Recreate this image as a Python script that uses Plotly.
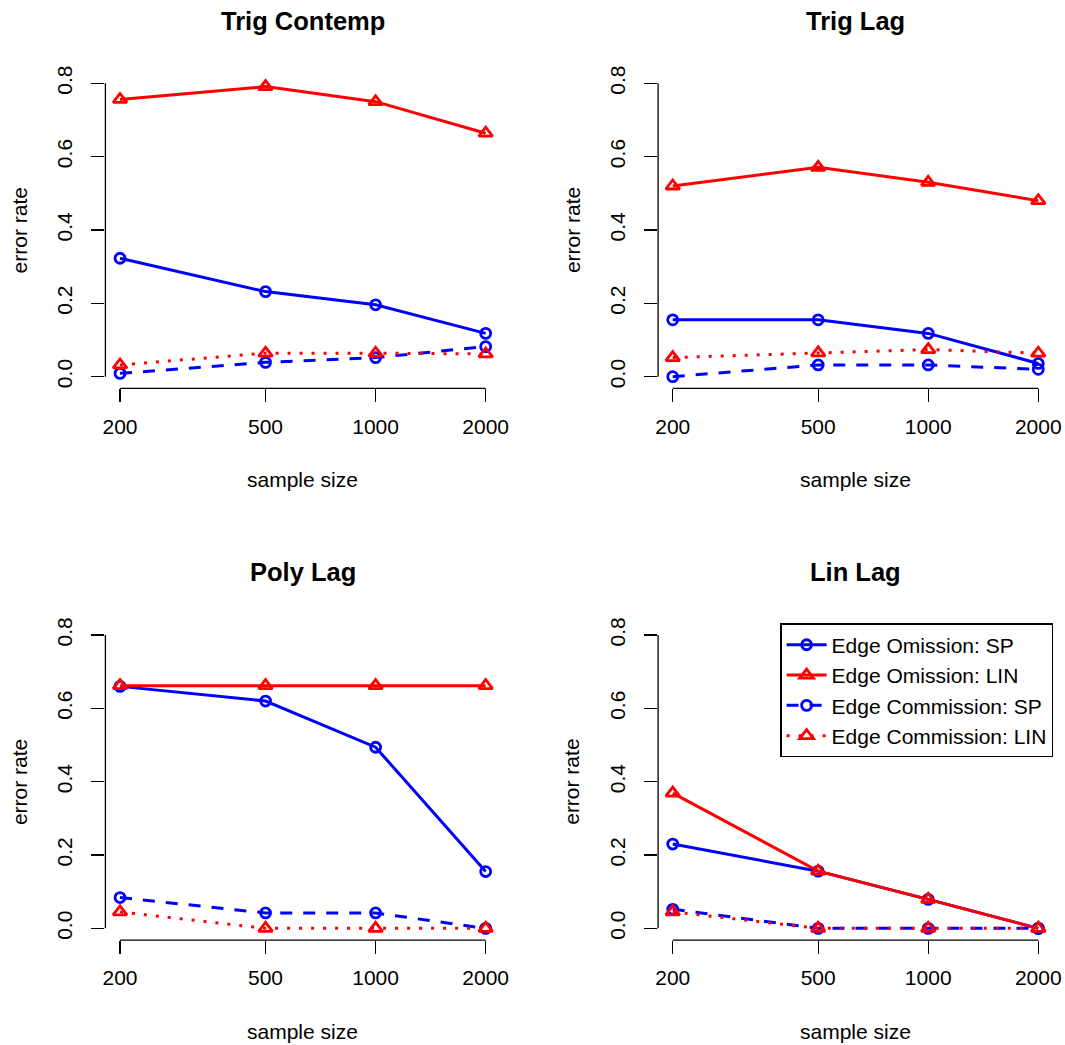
import math
import plotly.graph_objects as go

# ---------------- data ----------------
sample_size = [200, 500, 1000, 2000]
x_tick_labels = ["200", "500", "1000", "2000"]
y_ticks = [0.0, 0.2, 0.4, 0.6, 0.8]
y_tick_labels = ["0.0", "0.2", "0.4", "0.6", "0.8"]

panel_titles = ["Trig Contemp", "Trig Lag", "Poly Lag", "Lin Lag"]
series_names = ["Edge Omission: SP", "Edge Omission: LIN",
                "Edge Commission: SP", "Edge Commission: LIN"]

trig_contemp_omis_sp = [0.323, 0.232, 0.196, 0.118]
trig_contemp_omis_lin = [0.756, 0.791, 0.750, 0.664]
trig_contemp_comm_sp = [0.009, 0.039, 0.052, 0.082]
trig_contemp_comm_lin = [0.032, 0.064, 0.064, 0.062]

trig_lag_omis_sp = [0.155, 0.155, 0.118, 0.036]
trig_lag_omis_lin = [0.520, 0.571, 0.530, 0.480]
trig_lag_comm_sp = [0.000, 0.032, 0.032, 0.020]
trig_lag_comm_lin = [0.052, 0.065, 0.074, 0.064]

poly_lag_omis_sp = [0.660, 0.620, 0.494, 0.155]
poly_lag_omis_lin = [0.662, 0.662, 0.662, 0.662]
poly_lag_comm_sp = [0.084, 0.042, 0.042, 0.000]
poly_lag_comm_lin = [0.045, 0.000, 0.000, 0.000]

lin_lag_omis_sp = [0.230, 0.156, 0.079, 0.000]
lin_lag_omis_lin = [0.369, 0.156, 0.079, 0.000]
lin_lag_comm_sp = [0.052, 0.000, 0.000, 0.000]
lin_lag_comm_lin = [0.045, 0.000, 0.000, 0.000]

panels = [
    [trig_contemp_omis_sp, trig_contemp_omis_lin, trig_contemp_comm_sp, trig_contemp_comm_lin],
    [trig_lag_omis_sp, trig_lag_omis_lin, trig_lag_comm_sp, trig_lag_comm_lin],
    [poly_lag_omis_sp, poly_lag_omis_lin, poly_lag_comm_sp, poly_lag_comm_lin],
    [lin_lag_omis_sp, lin_lag_omis_lin, lin_lag_comm_sp, lin_lag_comm_lin],
]

# ---------------- styles ----------------
FONT = "Liberation Sans, Arial, Helvetica, sans-serif"
W, H = 1065, 1045
styles = [
    dict(color="#0000FF", dash="solid", symbol="circle-open", size=10),
    dict(color="#FF0000", dash="solid", symbol="triangle-up-open", size=12),
    dict(color="#0000FF", dash="12px,11px", symbol="circle-open", size=10),
    dict(color="#FF0000", dash="3px,9px", symbol="triangle-up-open", size=12),
]

# panel plot regions in pixels (left, right, top, bottom)
regions = [
    (105.4, 500.3, 71.6, 388.4),
    (658.1, 1052.9, 71.6, 388.4),
    (105.4, 500.3, 623.3, 940.1),
    (658.1, 1052.9, 623.3, 940.1),
]

fig = go.Figure()

lx0, lx1 = math.log10(min(sample_size)), math.log10(max(sample_size))
xpad = 0.04 * (lx1 - lx0)
ylo, yhi = min(y_ticks), max(y_ticks)
ypad = 0.04 * (yhi - ylo)

annotations = []
shapes = []

for p in range(4):
    sfx = "" if p == 0 else str(p + 1)
    xa, ya = "x" + sfx, "y" + sfx
    left, right, top, bottom = regions[p]
    dom_x = [left / W, right / W]
    dom_y = [1 - bottom / H, 1 - top / H]
    axis_font = dict(family=FONT, size=21, color="black")
    fig.layout["xaxis" + sfx] = dict(
        domain=dom_x, anchor=ya, type="log",
        range=[lx0 - xpad, lx1 + xpad],
        tickmode="array", tickvals=sample_size, ticktext=x_tick_labels,
        ticks="outside", ticklen=13, tickwidth=1.3, tickcolor="black",
        showline=False, showgrid=False, zeroline=False,
        tickfont=axis_font, ticklabelstandoff=6, automargin=False,
    )
    fig.layout["yaxis" + sfx] = dict(
        domain=dom_y, anchor=xa,
        range=[ylo - ypad, yhi + ypad],
        tickmode="array", tickvals=y_ticks, ticktext=y_tick_labels,
        ticks="outside", ticklen=13, tickwidth=1.3, tickcolor="black",
        tickangle=-90,
        showline=False, showgrid=False, zeroline=False,
        tickfont=axis_font, ticklabelstandoff=11, automargin=False,
    )
    # axis lines spanning first to last tick (R style)
    shapes.append(dict(type="line", xref=xa, yref=ya + " domain",
                       x0=min(sample_size), x1=max(sample_size), y0=0, y1=0,
                       line=dict(color="black", width=1.3)))
    shapes.append(dict(type="line", xref=xa + " domain", yref=ya,
                       x0=0, x1=0, y0=ylo, y1=yhi,
                       line=dict(color="black", width=1.3)))

    for s in range(4):
        st = styles[s]
        fig.add_trace(go.Scatter(
            x=sample_size, y=panels[p][s], xaxis=xa, yaxis=ya,
            mode="lines+markers", name=series_names[s],
            legendgroup=series_names[s], showlegend=(p == 3),
            line=dict(color=st["color"], width=3, dash=st["dash"]),
            marker=dict(symbol=st["symbol"], size=st["size"], color=st["color"],
                        line=dict(width=2.8, color=st["color"])),
            cliponaxis=False,
        ))

    annotations.append(dict(text="<b>" + panel_titles[p] + "</b>", xref=xa + " domain",
                            yref=ya + " domain", x=0.5, y=1, yshift=51,
                            xanchor="center", yanchor="middle", showarrow=False,
                            font=dict(family=FONT, size=25.5, color="black")))
    annotations.append(dict(text="sample size", xref=xa + " domain",
                            yref=ya + " domain", x=0.5, y=0, yshift=-91,
                            xanchor="center", yanchor="middle", showarrow=False,
                            font=dict(family=FONT, size=21, color="black")))
    annotations.append(dict(text="error rate", xref=xa + " domain",
                            yref=ya + " domain", x=0, y=0.5, xshift=-86,
                            xanchor="center", yanchor="middle", showarrow=False,
                            textangle=-90,
                            font=dict(family=FONT, size=21, color="black")))

fig.update_layout(
    width=W, height=H,
    margin=dict(l=0, r=0, t=0, b=0, autoexpand=False),
    paper_bgcolor="white", plot_bgcolor="white",
    font=dict(family=FONT, size=21, color="black"),
    annotations=annotations, shapes=shapes,
    legend=dict(x=1053.3 / W, y=1 - 623.3 / H, xanchor="right", yanchor="top",
                bordercolor="black", borderwidth=1.3, bgcolor="white",
                font=dict(family=FONT, size=21, color="black"),
                tracegroupgap=0, itemwidth=40),
    hovermode=False,
)

fig.write_html(
    "out.html",
    config={"displayModeBar": False, "staticPlot": True},
    post_script=(
        "document.documentElement.style.overflow='hidden';"
        "document.body.style.margin='0';"
        "document.body.style.padding='0';"
        "document.body.style.overflow='hidden';"
    ),
)
